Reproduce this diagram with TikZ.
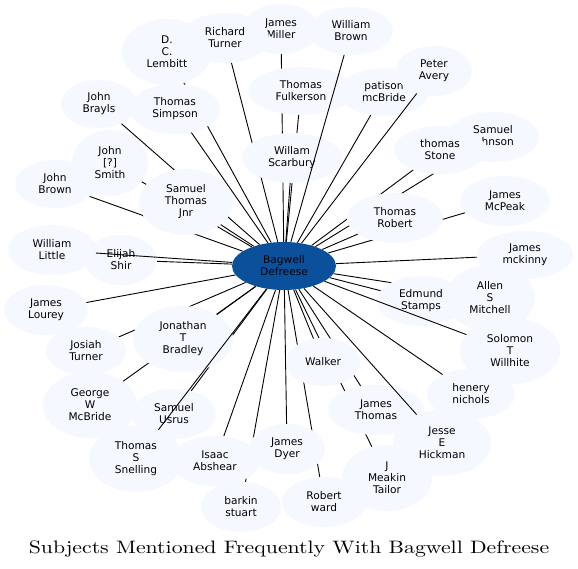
\documentclass[tikz,border=0pt]{standalone}
\usepackage{fontspec}
\usepackage{graphicx}
\newfontfamily\dejavu{DejaVu Sans}
\newfontfamily\titlefont{lmroman10-regular.otf}
\usetikzlibrary{shapes.geometric}
\definecolor{nodefill}{RGB}{245,249,255}
\definecolor{hubfill}{RGB}{10,80,155}
\pgfdeclarelayer{background}
\pgfdeclarelayer{front}
\pgfsetlayers{background,main,front}
\begin{document}
\begin{tikzpicture}[x=1pt,y=-1pt,
  subj/.style={ellipse, fill=nodefill, inner sep=0pt, align=center,
    font=\dejavu\fontsize{10.6}{12}\selectfont},
  hub/.style={subj, fill=hubfill},
  sz/.style 2 args={minimum width=#1pt, minimum height=#2pt},
  link/.style={draw=black, line width=0.9pt},
  titlestyle/.style={font=\titlefont\fontsize{18}{20}\selectfont, inner sep=0pt}]
\begin{pgfonlayer}{background}
\fill[white] (0,0) rectangle (578,568);
\end{pgfonlayer}
\useasboundingbox (0,0) rectangle (578,568);

\node[hub, sz={104}{48}] (c) at (284,266) {Bagwell\\Defreese};

\node[subj, sz={90}{66}] (lem) at (167,52) {D.\\C.\\Lembitt};
\node[subj, sz={76}{50}] (jm) at (281,29) {James\\Miller};
\node[subj, sz={88}{50}] (rt) at (225,38) {Richard\\Turner};
\node[subj, sz={84}{48}] (wb) at (351,31) {William\\Brown};
\node[subj, sz={106}{48}] (tf) at (301,91) {Thomas\\Fulkerson};
\node[subj, sz={90}{48}] (pm) at (384,92) {patison\\mcBride};
\node[subj, sz={76}{50}] (pa) at (434,71) {Peter\\Avery};
\node[subj, sz={92}{50}] (sj) at (493,137) {Samuel\\Johnson};
\node[subj, sz={92}{48}] (ts) at (440,150) {thomas\\Stone};
\node[subj, sz={90}{50}] (mcp) at (505,201) {James\\McPeak};
\node[subj, sz={96}{50}] (tr) at (395,218) {Thomas\\Robert};
\node[subj, sz={96}{48}] (mk) at (525,255) {James\\mckinny};
\node[subj, sz={90}{66}] (asm) at (490,298) {Allen\\S\\Mitchell};
\node[subj, sz={88}{50}] (es) at (421,301) {Edmund\\Stamps};
\node[subj, sz={100}{66}] (stw) at (510,351) {Solomon\\T\\Willhite};
\node[subj, sz={88}{50}] (hn) at (471,394) {henery\\nichols};
\node[subj, sz={90}{66}] (jmt) at (387,478) {J\\Meakin\\Tailor};
\node[subj, sz={98}{66}] (jeh) at (442,443) {Jesse\\E\\Hickman};
\node[subj, sz={96}{50}] (jt) at (376,410) {James\\Thomas};
\node[subj, sz={74}{48}] (wk) at (323,362) {Walker};
\node[subj, sz={84}{50}] (rw) at (324,502) {Robert\\ward};
\node[subj, sz={76}{50}] (jd) at (287,449) {James\\Dyer};
\node[subj, sz={80}{50}] (bs) at (241,507) {barkin\\stuart};
\node[subj, sz={88}{50}] (ia) at (215,461) {Isaac\\Abshear};
\node[subj, sz={84}{50}] (su) at (174,414) {Samuel\\Usrus};
\node[subj, sz={94}{66}] (tss) at (136,459) {Thomas\\S\\Snelling};
\node[subj, sz={94}{66}] (gwm) at (90,405) {George\\W\\McBride};
\node[subj, sz={80}{48}] (jtu) at (86,351) {Josiah\\Turner};
\node[subj, sz={100}{66}] (jtb) at (183,339) {Jonathan\\T\\Bradley};
\node[subj, sz={84}{50}] (jl) at (46,310) {James\\Lourey};
\node[subj, sz={88}{50}] (wl) at (52,250) {William\\Little};
\node[subj, sz={72}{50}] (esh) at (121,260) {Elijah\\Shir};
\node[subj, sz={94}{66}] (stj) at (186,202) {Samuel\\Thomas\\Jnr};
\node[subj, sz={80}{48}] (jb) at (55,184) {John\\Brown};
\node[subj, sz={76}{66}] (jss) at (110,163) {John\\{[?]}\\Smith};
\node[subj, sz={76}{48}] (jbr) at (99,104) {John\\Brayls};
\node[subj, sz={90}{50}] (tsi) at (175,109) {Thomas\\Simpson};
\node[subj, sz={100}{50}] (ws) at (292,158) {Willam\\Scarbury};

\node[titlestyle, anchor=base] (title) at (289,553) {\scalebox{1.21}[1]{Subjects Mentioned Frequently With Bagwell Defreese}};

\begin{pgfonlayer}{background}
\foreach \n in {lem,rt,jm,tf,pm,sj,ts,mcp,tr,mk,asm,es,hn,jmt,jt,wk,rw,jd,bs,ia,su,gwm,jtu,jtb,jl,esh,stj,jb,jss,jbr,tsi,ws}
  \draw[link] (c) -- (\n);
\end{pgfonlayer}
\begin{pgfonlayer}{front}
\foreach \n in {wb,pa,wl,stw,tss,jeh}
  \draw[link] (c) -- (\n);
\end{pgfonlayer}
\end{tikzpicture}
\end{document}
